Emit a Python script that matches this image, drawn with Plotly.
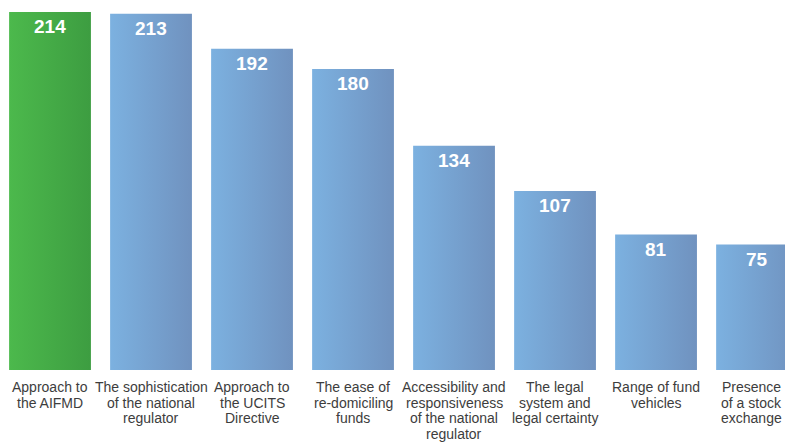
import plotly.graph_objects as go

# factors and their scores
categories = [
    "Approach to<br>the AIFMD",
    "The sophistication<br>of the national<br>regulator",
    "Approach to<br>the UCITS<br>Directive",
    "The ease of<br>re-domiciling<br>funds",
    "Accessibility and<br>responsiveness<br>of the national<br>regulator",
    "The legal<br>system and<br>legal certainty",
    "Range of fund<br>vehicles",
    "Presence<br>of a stock<br>exchange",
]
scores = [214, 213, 192, 180, 134, 107, 81, 75]

green = [[0, "#4cb94c"], [1, "#3d9d41"]]
blue = [[0, "#7cb1e0"], [1, "#7092bf"]]
w = 0.81  # bar width in category units
font = "Liberation Sans, Arial"

fig = go.Figure()
for i, v in enumerate(scores):
    # each bar is a filled box so it can carry a left-to-right gradient
    fig.add_trace(go.Scatter(
        x=[i - w/2, i + w/2, i + w/2, i - w/2, i - w/2],
        y=[0, 0, v, v, 0],
        mode="lines", fill="toself", line=dict(width=0),
        fillgradient=dict(type="horizontal", colorscale=green if i == 0 else blue),
        hoverinfo="skip", showlegend=False,
    ))
    fig.add_annotation(x=i, y=v, text="<b>%d</b>" % v, showarrow=False,
                       yanchor="top", yshift=-2,
                       font=dict(family=font, size=19, color="white"))
    # category label, one line at a time for tighter leading
    # (last column nudged left so it is not clipped by the window edge)
    nudge = -6 if i == len(categories) - 1 else 0
    for k, line in enumerate(categories[i].split("<br>")):
        fig.add_annotation(x=i, y=0, yref="paper", text=line, showarrow=False,
                           yanchor="top", yshift=-7 - 15.7 * k, xshift=nudge,
                           font=dict(family=font, size=14, color="#3d3d3d"))

fig.update_layout(
    width=785, height=435,
    margin=dict(l=0, r=0, t=0, b=73),
    plot_bgcolor="white", paper_bgcolor="white",
    xaxis=dict(range=[-0.416, 7.356], visible=False),
    yaxis=dict(range=[0, 216.4], visible=False),
)
fig.write_html("out.html")
